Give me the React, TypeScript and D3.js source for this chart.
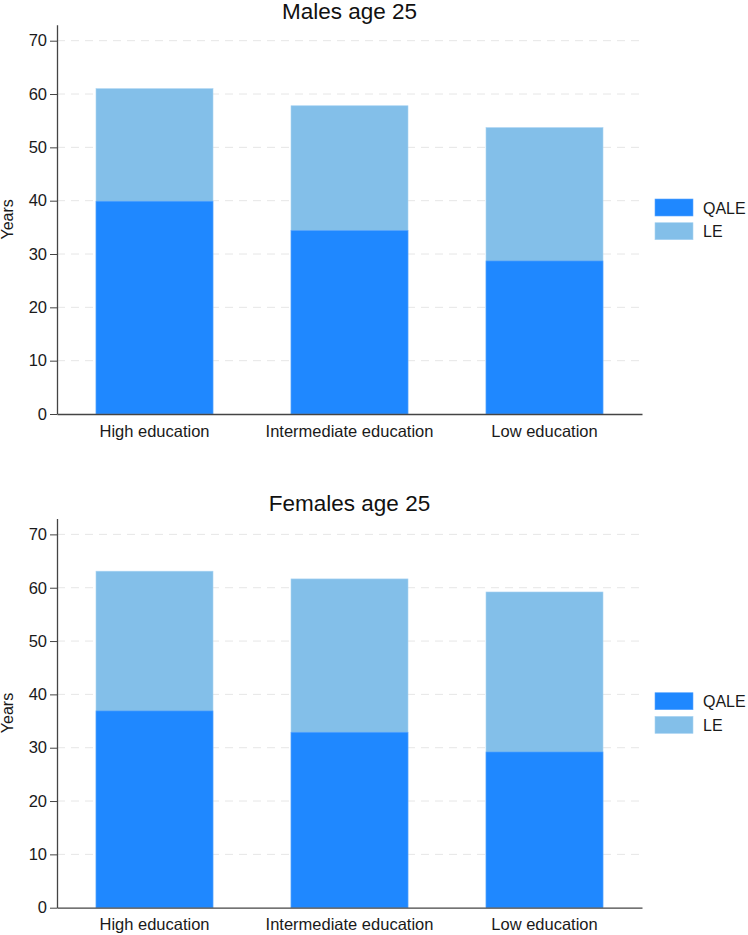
import React, { useRef, useEffect } from "react";
import * as d3 from "d3";

const categories = ["High education", "Intermediate education", "Low education"];
const maleLE = [61.0, 57.8, 53.7];
const maleQALE = [39.9, 34.4, 28.7];
const femaleLE = [63.1, 61.65, 59.2];
const femaleQALE = [36.9, 32.9, 29.2];
const yTicks = [0, 10, 20, 30, 40, 50, 60, 70];
const seriesNames = ["QALE", "LE"];

const QALE_COLOR = "#1f88ff";
const LE_COLOR = "#83bfe9";
const FONT = "'Liberation Sans', Arial, sans-serif";

const App: React.FC = () => {
  const svgRef = useRef<SVGSVGElement | null>(null);

  useEffect(() => {
    if (!svgRef.current) return;
    const svg = d3.select(svgRef.current);
    svg.selectAll("*").remove();

    const left = 57;
    const right = 642;

    const x = d3
      .scaleBand<string>()
      .domain(categories)
      .range([left, right])
      .paddingInner(0.4)
      .paddingOuter(0.2);

    const panels = [
      { title: "Males age 25", le: maleLE, qale: maleQALE, bottom: 414, titleY: 18.5 },
      { title: "Females age 25", le: femaleLE, qale: femaleQALE, bottom: 907.7, titleY: 511 },
    ];

    panels.forEach((p) => {
      const y = d3
        .scaleLinear()
        .domain([0, 73])
        .range([p.bottom, p.bottom - 73 * 5.333]);

      const g = svg.append("g");

      // title
      g.append("text")
        .attr("x", (left + right) / 2)
        .attr("y", p.titleY)
        .attr("text-anchor", "middle")
        .style("font-family", FONT)
        .style("font-size", "22.5px")
        .style("fill", "#111")
        .text(p.title);

      // dashed gridlines
      g.selectAll("line.grid")
        .data(yTicks.filter((t) => t > 0))
        .enter()
        .append("line")
        .attr("class", "grid")
        .attr("x1", left)
        .attr("x2", right)
        .attr("y1", (d) => y(d))
        .attr("y2", (d) => y(d))
        .attr("stroke", "#e6e6e6")
        .attr("stroke-width", 1)
        .attr("stroke-dasharray", "8,6");

      // LE bars (full height)
      g.selectAll("rect.le")
        .data(p.le)
        .enter()
        .append("rect")
        .attr("class", "le")
        .attr("x", (_, i) => x(categories[i]) || 0)
        .attr("width", x.bandwidth())
        .attr("y", (d) => y(d))
        .attr("height", (d) => y(0) - y(d))
        .attr("fill", LE_COLOR)
        .attr("stroke", "#a9d3f2")
        .attr("stroke-width", 0.6);

      // QALE bars
      g.selectAll("rect.qale")
        .data(p.qale)
        .enter()
        .append("rect")
        .attr("class", "qale")
        .attr("x", (_, i) => x(categories[i]) || 0)
        .attr("width", x.bandwidth())
        .attr("y", (d) => y(d))
        .attr("height", (d) => y(0) - y(d))
        .attr("fill", QALE_COLOR)
        .attr("stroke", "#5aa6ff")
        .attr("stroke-width", 0.6);

      // y axis
      const yAxis = g
        .append("g")
        .attr("transform", `translate(${left},0)`)
        .call(d3.axisLeft(y).tickValues(yTicks).tickSize(7).tickPadding(3).tickSizeOuter(0));
      yAxis.select(".domain").attr("stroke", "#444").attr("stroke-width", 1.3);
      yAxis.selectAll(".tick line").attr("stroke", "#444");
      yAxis
        .selectAll("text")
        .style("font-family", FONT)
        .style("font-size", "16.5px")
        .style("fill", "#1a1a1a");

      // x axis
      const xAxis = g
        .append("g")
        .attr("transform", `translate(0,${p.bottom})`)
        .call(d3.axisBottom(x).tickSize(0).tickPadding(11).tickSizeOuter(0));
      xAxis.select(".domain").attr("stroke", "#444").attr("stroke-width", 1.3);
      xAxis
        .selectAll("text")
        .style("font-family", FONT)
        .style("font-size", "16.5px")
        .style("fill", "#1a1a1a");

      // y title
      g.append("text")
        .attr("transform", `translate(13,${(y(0) + y(73)) / 2}) rotate(-90)`)
        .attr("text-anchor", "middle")
        .style("font-family", FONT)
        .style("font-size", "16px")
        .style("fill", "#1a1a1a")
        .text("Years");

      // legend
      const legendTop = p.bottom - 215;
      const lg = g.append("g");
      lg.selectAll("rect")
        .data(seriesNames)
        .enter()
        .append("rect")
        .attr("x", 655)
        .attr("y", (_, i) => legendTop + i * 23.7)
        .attr("width", 38)
        .attr("height", 17)
        .attr("fill", (_, i) => (i === 0 ? QALE_COLOR : LE_COLOR))
        .attr("stroke", (_, i) => (i === 0 ? "#5aa6ff" : "#a9d3f2"))
        .attr("stroke-width", 0.6);
      lg.selectAll("text")
        .data(seriesNames)
        .enter()
        .append("text")
        .attr("x", 703)
        .attr("y", (_, i) => legendTop + 14.5 + i * 23.7)
        .style("font-family", FONT)
        .style("font-size", "16px")
        .style("fill", "#1a1a1a")
        .text((d) => d);
    });
  }, []);

  return (
    <svg
      ref={svgRef}
      width={748}
      height={935}
      style={{ position: "absolute", left: 0, top: 0, background: "#fff" }}
    />
  );
};

export default App;
